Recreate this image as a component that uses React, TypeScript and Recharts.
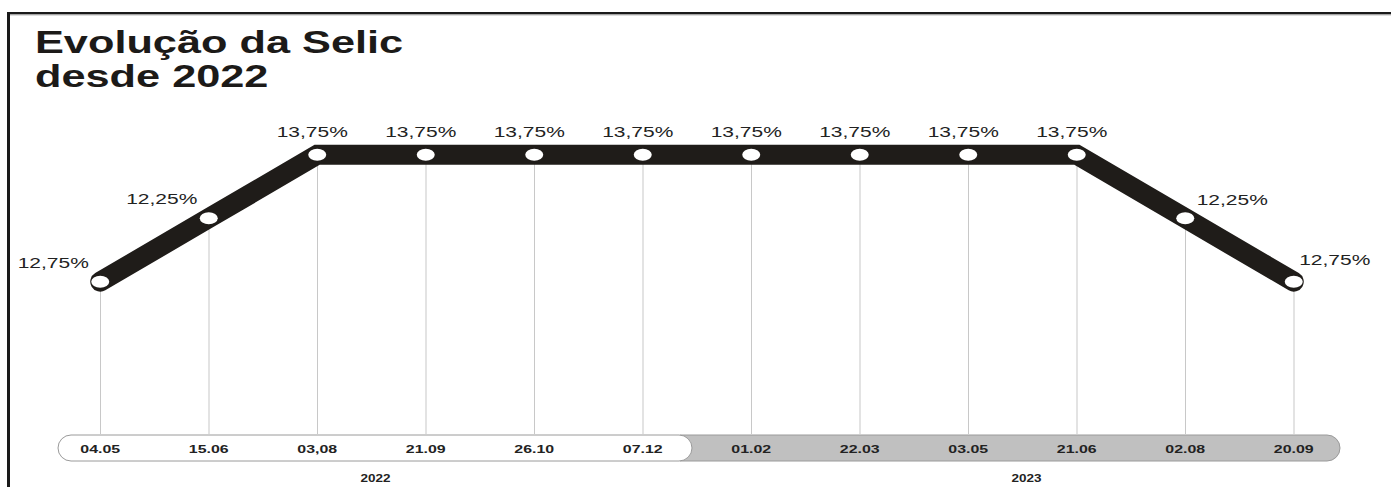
import React from "react";
import { ComposedChart, Line, Bar, XAxis, YAxis, ReferenceArea, LabelList } from "recharts";

const datas = ["04.05", "15.06", "03,08", "21.09", "26.10", "07.12", "01.02", "22.03", "03.05", "21.06", "02.08", "20.09"];
const selic = [12.75, 13.25, 13.75, 13.75, 13.75, 13.75, 13.75, 13.75, 13.75, 13.75, 13.25, 12.75];
const rotulos = ["12,75%", "12,25%", "13,75%", "13,75%", "13,75%", "13,75%", "13,75%", "13,75%", "13,75%", "13,75%", "12,25%", "12,75%"];
const anos = ["2022", "2023"];
const titulo = ["Evolução da Selic", "desde 2022"];

const data = datas.map((d, i) => ({ data: d, valor: selic[i], rotulo: rotulos[i] }));

const FONT = "'Liberation Sans', Arial, Helvetica, sans-serif";
const SX = 1.4;

const Dot = (p: any) => (
  <ellipse key={`dot-${p.index}`} cx={p.cx} cy={p.cy} rx={9} ry={6} fill="#ffffff" />
);

const renderLabel = (p: any) => {
  const n = datas.length;
  const i = p.index;
  let dx = -5;
  let dy = -18;
  if (i < 2) { dx = -47; dy = -14; }
  else if (i === n - 2) { dx = 47; dy = -13; }
  else if (i === n - 1) { dx = 41; dy = -17; }
  return (
    <g transform={`translate(${p.x + dx},${p.y + dy}) scale(${SX},1)`}>
      <text x={0} y={0} textAnchor="middle" fontFamily={FONT} fontSize={15} fill="#222">
        {p.value}
      </text>
    </g>
  );
};

const Tick = (p: any) => (
  <g transform={`translate(${p.x},${p.y + 18.5}) scale(1.35,1)`}>
    <text x={0} y={0} textAnchor="middle" fontFamily={FONT} fontWeight="bold" fontSize={11.8} fill="#222">
      {p.payload.value}
    </text>
  </g>
);

const pillShape = (fill: string, year: string, leftInset: number, rightInset: number, roundLeft: boolean) => (p: any) => {
  const top = p.y + p.height + 1;
  const h = 26;
  const r = 13;
  const x0 = p.x + leftInset;
  const x1 = p.x + p.width - rightInset;
  const d = roundLeft
    ? `M${x0 + r},${top} L${x1 - r},${top} A${r},${r} 0 0 1 ${x1 - r},${top + h} L${x0 + r},${top + h} A${r},${r} 0 0 1 ${x0 + r},${top} Z`
    : `M${x0},${top} L${x1 - r},${top} A${r},${r} 0 0 1 ${x1 - r},${top + h} L${x0},${top + h} Z`;
  return (
    <g>
      <path d={d} fill={fill} stroke="#9a9a9a" strokeWidth={1} />
      <g transform={`translate(${p.x + p.width / 2 + 4},${top + h + 21}) scale(1.35,1)`}>
        <text x={0} y={0} textAnchor="middle" fontFamily={FONT} fontWeight="bold" fontSize={10} fill="#222">
          {year}
        </text>
      </g>
    </g>
  );
};

export default function App() {
  return (
    <div style={{ position: "absolute", left: 0, top: 0, width: 1391, height: 487, background: "#fff" }}>
      <svg width={1391} height={487} style={{ position: "absolute", left: 0, top: 0 }}>
        <rect x={7} y={12} width={1384} height={2.5} fill="#1a1a1a" />
        <rect x={7} y={14.5} width={1384} height={1} fill="#bbbbbb" />
        <rect x={7} y={12} width={3} height={475} fill="#1a1a1a" />
        {titulo.map((t, i) => (
          <g key={t} transform={`translate(35,${53 + i * 34}) scale(1.42,1)`}>
            <text x={0} y={0} fontFamily={FONT} fontWeight="bold" fontSize={30.5} fill="#1c1a18">
              {t}
            </text>
          </g>
        ))}
      </svg>
      <div style={{ position: "absolute", left: 0, top: 0 }}>
        <ComposedChart width={1391} height={487} data={data} margin={{ top: 123, right: 43, left: 46, bottom: 0 }}>
          <YAxis hide domain={[11.55, 14]} type="number" />
          <XAxis
            dataKey="data"
            interval={0}
            axisLine={false}
            tickLine={false}
            tickSize={0}
            tickMargin={0}
            height={53}
            tick={Tick}
          />
          <ReferenceArea
            x1={datas[6]}
            x2={datas[11]}
            ifOverflow="visible"
            shape={pillShape("#c0c0c0", anos[1], -17, 8, false)}
          />
          <ReferenceArea
            x1={datas[0]}
            x2={datas[5]}
            ifOverflow="visible"
            shape={pillShape("#ffffff", anos[0], 12, 5, true)}
          />
          <Bar dataKey="valor" barSize={1} fill="#c8c8c8" isAnimationActive={false} />
          <Line
            dataKey="valor"
            stroke="#1f1c19"
            strokeWidth={20}
            strokeLinecap="round"
            strokeLinejoin="miter"
            dot={Dot}
            activeDot={false}
            isAnimationActive={false}
          >
            <LabelList dataKey="rotulo" content={renderLabel} />
          </Line>
        </ComposedChart>
      </div>
    </div>
  );
}
